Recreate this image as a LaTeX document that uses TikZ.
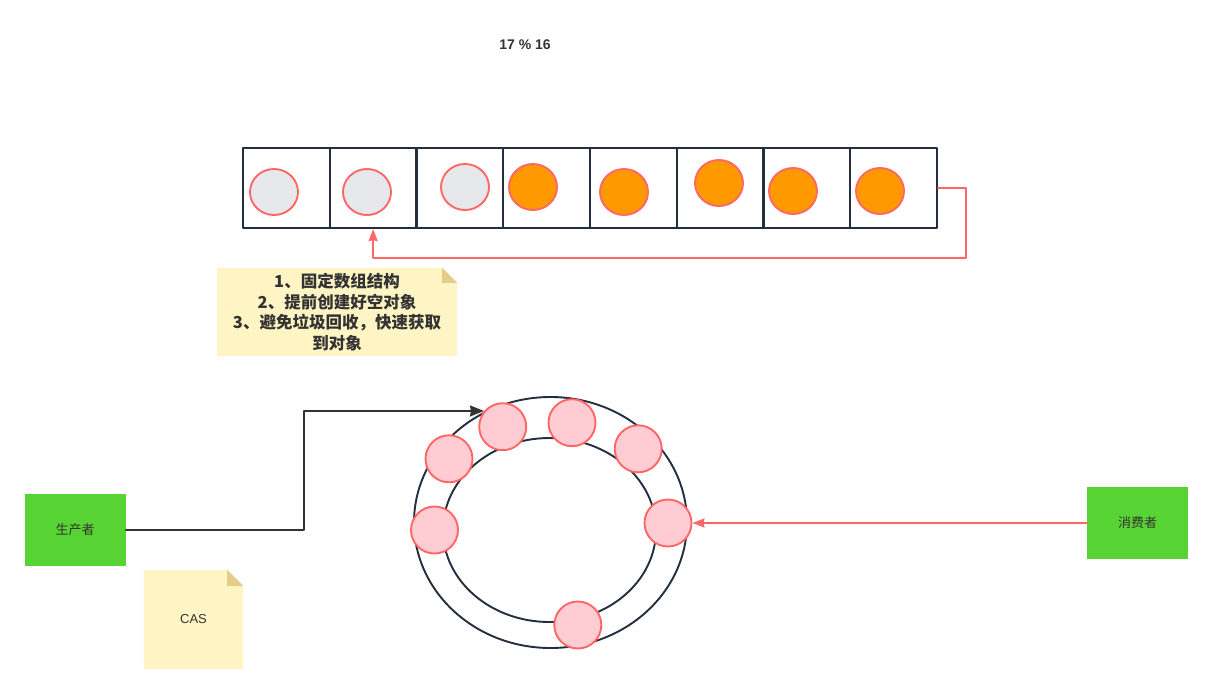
\documentclass[tikz,border=0pt]{standalone}
\usepackage{fontspec}
\setmainfont{Liberation Sans}
\newfontfamily\cjk{Noto Sans CJK SC}
\usetikzlibrary{positioning,arrows.meta,shapes.geometric,backgrounds}

\definecolor{darkline}{HTML}{232F3E}
\definecolor{redline}{HTML}{FF6666}
\definecolor{emptyfill}{HTML}{E6E8EB}
\definecolor{fullfill}{HTML}{FF9900}
\definecolor{pinkfill}{HTML}{FFCCD3}
\definecolor{notefill}{HTML}{FFF4C3}
\definecolor{notefold}{HTML}{E3CD8A}
\definecolor{boxgreen}{HTML}{58D334}
\definecolor{textgray}{HTML}{333333}

\begin{document}
\begin{tikzpicture}[x=1pt, y=-1pt,
    line cap=round, line join=round,
    cell/.style={draw=darkline, line width=2.2pt, minimum width=86.75, minimum height=80, inner sep=0pt},
    slot/.style={ellipse, draw=redline, line width=1.9pt, minimum width=48, minimum height=46, inner sep=0pt},
    ball/.style={circle, draw=redline, fill=pinkfill, line width=1.9pt, minimum size=47, inner sep=0pt},
    ring/.style={ellipse, draw=darkline, line width=1.9pt, inner sep=0pt},
    role/.style={fill=boxgreen, text=textgray, minimum width=101, minimum height=72, font=\cjk\fontsize{13}{15}\selectfont},
    note/.style={text=textgray, align=center, inner sep=0pt},
    redarrow/.style={draw=redline, line width=1.8pt, -{Stealth[length=12pt,width=9pt,inset=1pt]}},
    darkarrow/.style={draw=textgray, line width=1.6pt, -{Stealth[length=14pt,width=11pt,inset=1pt]}}]
\def\cellw{86.75}

\useasboundingbox (0,0) rectangle (1212,694);

% TITLE
\node[text=textgray, font=\bfseries\fontsize{14}{16}\selectfont] (title) at (525,45) {17 \% 16};

% ARRAY
\foreach \i in {1,...,8}
  \node[cell] (cell\i) at ({243+(\i-0.5)*\cellw},188) {};
\foreach \i/\x/\y/\f in {1/274/192/emptyfill, 2/367/192/emptyfill, 3/465/187/emptyfill,
                         4/533/187/fullfill, 5/624/192/fullfill, 6/719/183/fullfill,
                         7/793/191/fullfill, 8/880/191/fullfill}
  \node[slot, fill=\f] (slot\i) at (\x,\y) {};

\coordinate (loop) at (966,258);
\draw[redarrow] (cell8.east) -| (loop) -| (cell2.south);

% NOTES
\node[note, minimum width=240, minimum height=88,
      font=\cjk\bfseries\fontsize{16.5}{20.5}\selectfont] (note1) at (337,312)
  {1、固定数组结构\\2、提前创建好空对象\\3、避免垃圾回收，快速获取\\到对象};
\node[note, minimum width=99, minimum height=99,
      font=\fontsize{13}{15}\selectfont] (note2) at (193.5,619.5) {CAS};

\begin{scope}[on background layer]
\fill[white] (0,0) rectangle (1212,694);
\foreach \n/\s in {note1/15,note2/16}{
  \fill[notefill] (\n.south west) -- (\n.north west) -- ([xshift=-\s pt]\n.north east)
    -- ([yshift=-\s pt]\n.north east) -- (\n.south east) -- cycle;
  \fill[notefold] ([xshift=-\s pt]\n.north east) -- ([xshift=-\s pt,yshift=-\s pt]\n.north east)
    -- ([yshift=-\s pt]\n.north east) -- cycle;
}
\end{scope}

% RING BUFFER
\node[ring, minimum width=273, minimum height=251] (outer) at (550.5,522.5) {};
\node[ring, minimum width=213, minimum height=184] (inner) at (549.5,530) {};
\foreach \i/\x/\y in {1/502.7/426.7, 2/572/422.7, 3/638.2/448.8, 4/449/458.8,
                      5/434.5/530, 6/668/523, 7/577.8/625}
  \node[ball] (ball\i) at (\x,\y) {};

% PRODUCER / CONSUMER
\node[role] (producer) at (75,530) {生产者};
\node[role] (consumer) at (1137.5,523) {消费者};

\draw[darkarrow] (producer.east) -- ++(178,0) |- (ball1.140);
\draw[redarrow] (consumer.west) -- (ball6.east);

\end{tikzpicture}
\end{document}
